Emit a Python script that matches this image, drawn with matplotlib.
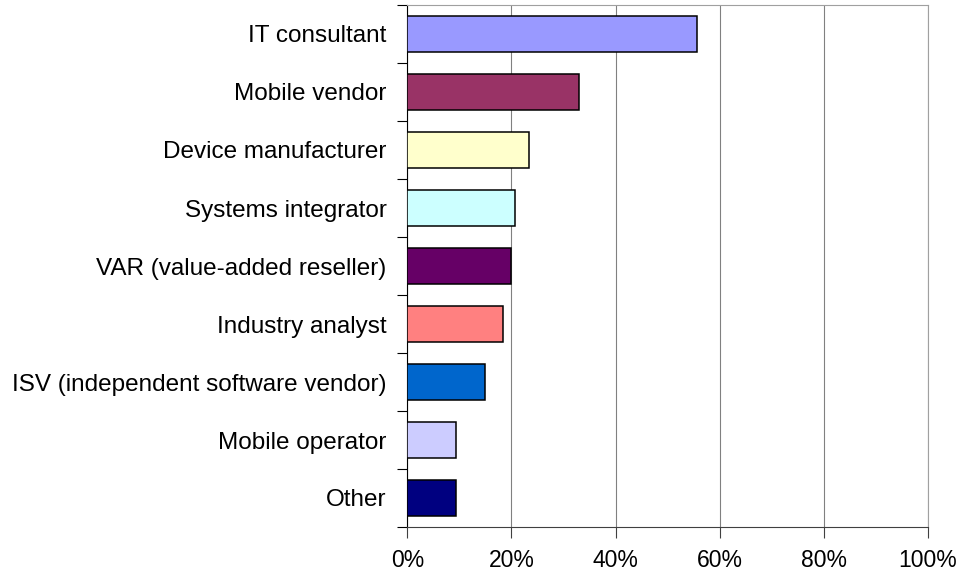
"""Horizontal bar chart of respondent roles (share of respondents)."""

import numpy as np
import matplotlib.pyplot as plt
from matplotlib.ticker import FixedLocator, PercentFormatter

plt.rcParams['font.family'] = ['Liberation Sans', 'DejaVu Sans']

# =============================================================================
# Data
roles = ["IT consultant", "Mobile vendor", "Device manufacturer",
         "Systems integrator", "VAR (value-added reseller)",
         "Industry analyst", "ISV (independent software vendor)",
         "Mobile operator", "Other"]
share = [55.6, 33.0, 23.4, 20.7, 19.9, 18.4, 15.0, 9.3, 9.3]
colors = ["#9999FF", "#993366", "#FFFFCC", "#CCFFFF", "#660066",
          "#FF8080", "#0066CC", "#CCCCFF", "#000080"]
xticks = [0, 20, 40, 60, 80, 100]

# =============================================================================
fig = plt.figure(figsize=(9.62, 5.73), dpi=100)
ax = fig.add_axes([407.5 / 962, 1 - 527 / 573, 520 / 962, 522 / 573])

pos = np.arange(len(roles))[::-1]
ax.barh(pos, share, height=0.62, color=colors, edgecolor="black",
        linewidth=1.1, zorder=3)

ax.set_xlim(0, 100)
ax.set_ylim(-0.5, len(roles) - 0.5)

# labels at bar centres, tick marks on the category boundaries
ax.set_yticks(pos)
ax.set_yticklabels(roles, fontsize=17.5)
ax.yaxis.set_minor_locator(FixedLocator(np.arange(len(roles) + 1) - 0.5))
ax.tick_params(axis="y", which="major", length=0, pad=15)
ax.tick_params(axis="y", which="minor", length=7, width=0.8, color="black")

ax.set_xticks(xticks)
ax.xaxis.set_major_formatter(PercentFormatter(decimals=0))
ax.tick_params(axis="x", length=8, width=0.8, color="#404040",
               labelsize=16.5, pad=7.5)

ax.grid(axis="x", color="#808080", linewidth=0.8, zorder=0)
ax.spines["left"].set_color("black")
ax.spines["bottom"].set_color("#404040")
for side in ("top", "right"):
    ax.spines[side].set_color("#a0a0a0")
for sp in ax.spines.values():
    sp.set_linewidth(0.8)

fig.savefig("out.png", dpi=100)
